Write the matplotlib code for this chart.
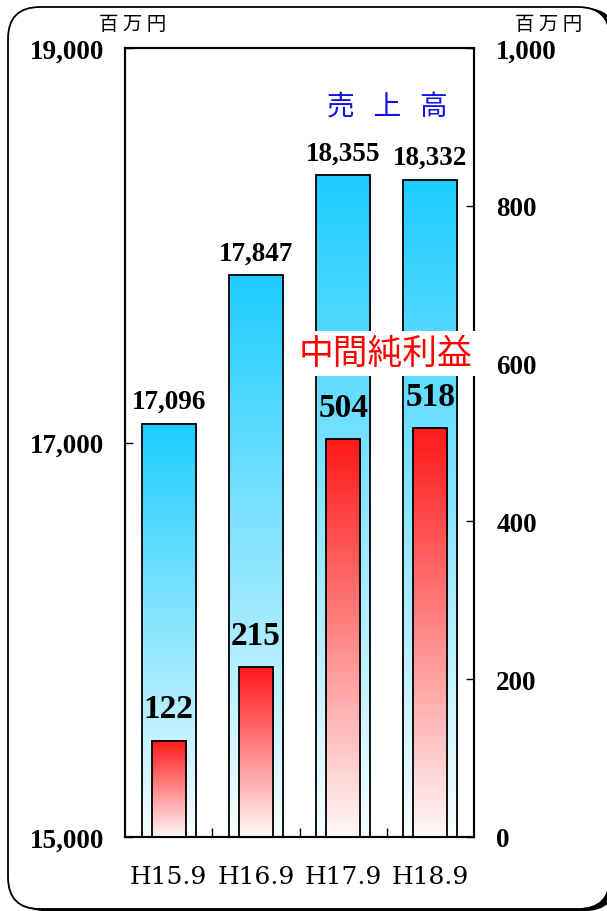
"""
Sales and interim net income, H15.9 - H18.9 (two-axis bar chart).
"""

import matplotlib.pyplot as plt
import numpy as np
from matplotlib.patches import FancyBboxPatch

periods = ['H15.9', 'H16.9', 'H17.9', 'H18.9']
sales = [17096, 17847, 18355, 18332]          # 百万円, left axis
net_income = [122, 215, 504, 518]             # 百万円, right axis

sales_ticks = [15000, 17000, 19000]
income_ticks = [0, 200, 400, 600, 800, 1000]

jp_font = ['Noto Sans CJK JP', 'DejaVu Sans']
num_font = 'Liberation Serif'


def gradient_bar(ax, x, top, bottom, width, color, zorder):
    # vertical fade from the bar colour at the top down to white
    t = np.linspace(0, 0.97, 256).reshape(-1, 1, 1)
    c = np.array(color).reshape(1, 1, 3)
    img = c + (1 - c) * t
    ax.imshow(img, extent=(x - width / 2, x + width / 2, bottom, top),
              aspect='auto', origin='upper', zorder=zorder)
    ax.bar(x, top - bottom, width, bottom=bottom, facecolor='none',
           edgecolor='black', linewidth=1.3, zorder=zorder + 0.1)


fig = plt.figure(figsize=(6.07, 9.12), dpi=100)

# rounded frame; the right edge runs off the page, shadow peeks out at the corner
shadow = FancyBboxPatch((0.14, 0.005), 6.02, 9.02, boxstyle='round,pad=0,rounding_size=0.32',
                        transform=fig.dpi_scale_trans, facecolor='black', edgecolor='black',
                        zorder=-2)
frame = FancyBboxPatch((0.08, 0.02), 6.02, 9.02, boxstyle='round,pad=0,rounding_size=0.32',
                       transform=fig.dpi_scale_trans, facecolor='white', edgecolor='black',
                       linewidth=1.3, zorder=-1)
fig.patches.extend([shadow, frame])

ax = fig.add_axes([125 / 607, 74 / 912, 349 / 607, 789 / 912])
ax.patch.set_alpha(0)
ax2 = ax.twinx()

x = np.arange(len(periods))
for xi, s in zip(x, sales):
    gradient_bar(ax, xi, s, 15000, 0.62, (30 / 255, 205 / 255, 1.0), 2)
    ax.annotate(f'{s:,}', (xi, s), xytext=(0, 7), textcoords='offset points',
                ha='center', va='bottom', fontsize=19.5, fontweight='bold', family=num_font)

for xi, v in zip(x, net_income):
    gradient_bar(ax2, xi, v, 0, 0.39, (1.0, 25 / 255, 25 / 255), 2)
    ax2.annotate(f'{v}', (xi, v), xytext=(0, 12), textcoords='offset points',
                 ha='center', va='bottom', fontsize=24, fontweight='bold', family=num_font)

ax.set_xlim(-0.5, 3.5)
ax.set_ylim(15000, 19000)
ax2.set_ylim(0, 1000)

ax.set_xticks(x)
ax.set_xticklabels(periods, family='DejaVu Serif', fontsize=18)
ax.set_xticks([0.5, 1.5, 2.5], minor=True)
ax.tick_params(axis='x', which='major', length=0, pad=20)
ax.tick_params(axis='x', which='minor', direction='in', length=6.5, width=1)

ax.set_yticks(sales_ticks)
ax.set_yticklabels([f'{v:,}' for v in sales_ticks], family=num_font,
                   fontweight='bold', fontsize=19.5)
ax.tick_params(axis='y', direction='in', length=6, width=1, pad=15)

ax2.set_yticks(income_ticks)
ax2.set_yticklabels([f'{v:,}' for v in income_ticks], family=num_font,
                    fontweight='bold', fontsize=19.5)
ax2.tick_params(axis='y', direction='in', length=6, width=1, pad=16)

for a in (ax, ax2):
    for sp in a.spines.values():
        sp.set_linewidth(1.5)

ax2.text(2.51, 926, '売   上   高', ha='center', va='center', fontsize=20,
         color='#1010e8', family=jp_font, zorder=6)
ax2.text(2.48, 613, '中間純利益', ha='center', va='center', fontsize=25,
         color='#ff0000', family=jp_font, zorder=6, clip_on=False,
         bbox=dict(boxstyle='square,pad=0.15', facecolor='white', edgecolor='none'))

fig.text(133 / 607, 1 - 24 / 912, '百 万 円', ha='center', va='center',
         fontsize=14, family=jp_font)
fig.text(549 / 607, 1 - 24 / 912, '百 万 円', ha='center', va='center',
         fontsize=14, family=jp_font)

fig.savefig('out.png', dpi=100)
